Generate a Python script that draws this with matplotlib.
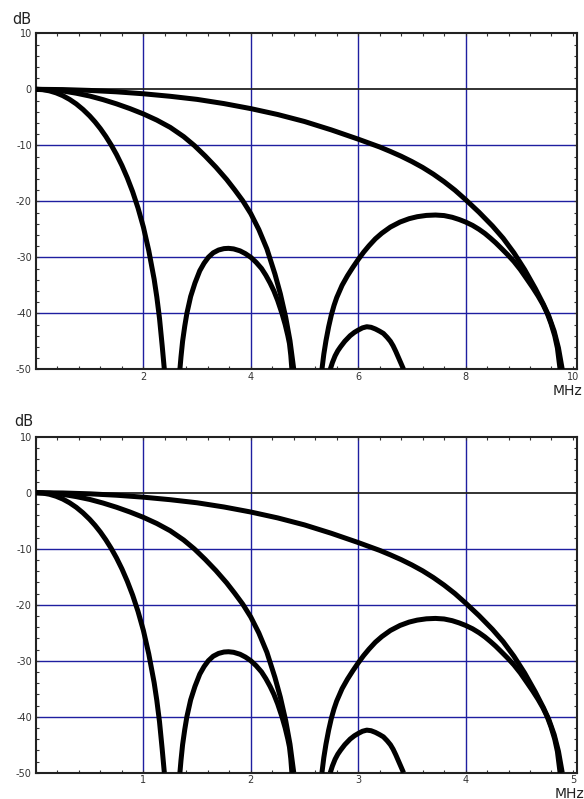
import matplotlib
matplotlib.use("Agg")
import matplotlib.pyplot as plt
from matplotlib.ticker import MultipleLocator

plt.rcParams['axes.unicode_minus'] = False

# dB readings, shared by both panels (the lower panel is the same response on a 0-5 MHz scale)
a_main_db = [0, -0.07, -0.28, -0.64, -1.14, -1.8, -2.61, -3.6, -4.76, -5.83, -7.04, -8.41, -9.94,
	-11.66, -13.6, -15.81, -18.3, -21.2, -24.6, -28.8, -33.9, -37.1, -40.9, -45.8, -50.0]
a_lobe1_db = [-50.0, -47.8, -45.0, -42.3, -40.0, -37.0, -34.6, -32.4, -31.05, -30.0, -29.2, -28.7, -28.45,
	-28.4, -28.5, -28.85, -29.35, -30.0, -30.9, -32.0, -33.2, -34.6, -36.0, -37.7, -40.0, -42.0, -44.0,
	-45.4, -47.5, -50.0]
a_lobe2_db = [-50.0, -48.8, -47.6, -46.7, -46.0, -45.0, -44.0, -43.4, -43.0, -42.6, -42.4, -42.5, -42.8,
	-43.2, -43.6, -44.3, -45.0, -45.8, -46.8, -47.9, -49.0, -50.0]
b_main_db = [0, -0.08, -0.3, -0.7, -1.2, -1.85, -2.6, -3.45, -4.4, -5.5, -6.8, -8.45, -10.05, -11.9,
	-13.9, -16.1, -17.95, -19.9, -22.2, -25.05, -28.5, -33.0, -36.5, -40.7, -44.9, -50.0]
b_lobe_db = [-50.0, -47.3, -44.9, -42.4, -40.3, -38.6, -37.2, -35.0, -33.3, -31.8, -30.4, -29.1, -27.95,
	-26.7, -25.7, -24.6, -23.7, -23.1, -22.75, -22.52, -22.45, -22.55, -22.85, -23.25, -23.7, -24.3,
	-25.0, -25.75, -26.55, -27.4, -28.25, -29.5, -30.75, -32.2, -34.0, -35.4, -36.9, -38.4, -40.0,
	-41.8, -44.0, -46.2, -50.0]
c_main_db = [0, -0.05, -0.2, -0.45, -0.8, -1.25, -1.8, -2.55, -3.45, -4.5, -5.75, -7.25, -8.9, -10.3,
	-11.1, -11.95, -12.9, -13.95, -15.15, -16.5, -18.0, -19.7, -21.95, -24.4, -26.6, -29.2, -32.2,
	-35.6, -38.4, -40.5, -43.2, -46.2, -50.0]

# frequencies, upper panel (MHz)
a_main_f = [0, 0.125, 0.25, 0.375, 0.5, 0.625, 0.75, 0.875, 1.0, 1.1, 1.2, 1.3, 1.4, 1.5, 1.6, 1.7,
	1.8, 1.9, 2.0, 2.1, 2.2, 2.25, 2.3, 2.35, 2.39]
a_lobe1_f = [2.68, 2.70, 2.73, 2.77, 2.81, 2.88, 2.96, 3.05, 3.13, 3.21, 3.3, 3.4, 3.5, 3.585, 3.68,
	3.8, 3.9, 4.0, 4.1, 4.2, 4.28, 4.36, 4.43, 4.5, 4.58, 4.64, 4.69, 4.72, 4.745, 4.765]
a_lobe2_f = [5.48, 5.52, 5.57, 5.62, 5.67, 5.75, 5.85, 5.93, 6.0, 6.08, 6.16, 6.24, 6.32, 6.4, 6.47,
	6.54, 6.6, 6.65, 6.7, 6.75, 6.8, 6.845]
b_main_f = [0, 0.25, 0.5, 0.75, 1.0, 1.25, 1.5, 1.75, 2.0, 2.25, 2.5, 2.75, 2.95, 3.15, 3.35, 3.55,
	3.7, 3.85, 4.0, 4.15, 4.3, 4.45, 4.55, 4.65, 4.73, 4.8]
b_lobe_f = [5.325, 5.36, 5.4, 5.45, 5.5, 5.55, 5.6, 5.7, 5.8, 5.9, 6.0, 6.1, 6.2, 6.32, 6.44, 6.6, 6.78,
	6.95, 7.1, 7.27, 7.44, 7.6, 7.75, 7.88, 8.0, 8.13, 8.25, 8.36, 8.46, 8.56, 8.65, 8.78, 8.9, 9.02,
	9.15, 9.25, 9.35, 9.44, 9.52, 9.59, 9.66, 9.71, 9.76]
c_main_f = [0, 0.5, 1.0, 1.5, 2.0, 2.5, 3.0, 3.5, 4.0, 4.5, 5.0, 5.5, 6.0, 6.4, 6.6, 6.8, 7.0, 7.2,
	7.4, 7.6, 7.8, 8.0, 8.25, 8.5, 8.7, 8.9, 9.1, 9.3, 9.45, 9.55, 9.65, 9.73, 9.8]

# frequencies, lower panel (MHz)
a_main_f2 = [0, 0.0625, 0.125, 0.1875, 0.25, 0.3125, 0.375, 0.4375, 0.5, 0.55, 0.6, 0.65, 0.7, 0.75,
	0.8, 0.85, 0.9, 0.95, 1.0, 1.05, 1.1, 1.125, 1.15, 1.175, 1.195]
a_lobe1_f2 = [1.34, 1.35, 1.365, 1.385, 1.405, 1.44, 1.48, 1.525, 1.565, 1.605, 1.65, 1.7, 1.75, 1.7925,
	1.84, 1.9, 1.95, 2.0, 2.05, 2.1, 2.14, 2.18, 2.215, 2.25, 2.29, 2.32, 2.345, 2.36, 2.3725, 2.3825]
a_lobe2_f2 = [2.74, 2.76, 2.785, 2.81, 2.835, 2.875, 2.925, 2.965, 3.0, 3.04, 3.08, 3.12, 3.16, 3.2,
	3.235, 3.27, 3.3, 3.325, 3.35, 3.375, 3.4, 3.4225]
b_main_f2 = [0, 0.125, 0.25, 0.375, 0.5, 0.625, 0.75, 0.875, 1.0, 1.125, 1.25, 1.375, 1.475, 1.575,
	1.675, 1.775, 1.85, 1.925, 2.0, 2.075, 2.15, 2.225, 2.275, 2.325, 2.365, 2.4]
b_lobe_f2 = [2.6625, 2.68, 2.7, 2.725, 2.75, 2.775, 2.8, 2.85, 2.9, 2.95, 3.0, 3.05, 3.1, 3.16, 3.22,
	3.3, 3.39, 3.475, 3.55, 3.635, 3.72, 3.8, 3.875, 3.94, 4.0, 4.065, 4.125, 4.18, 4.23, 4.28, 4.325,
	4.39, 4.45, 4.51, 4.575, 4.625, 4.675, 4.72, 4.76, 4.795, 4.83, 4.855, 4.88]
c_main_f2 = [0, 0.25, 0.5, 0.75, 1.0, 1.25, 1.5, 1.75, 2.0, 2.25, 2.5, 2.75, 3.0, 3.2, 3.3, 3.4, 3.5,
	3.6, 3.7, 3.8, 3.9, 4.0, 4.125, 4.25, 4.35, 4.45, 4.55, 4.65, 4.725, 4.775, 4.825, 4.865, 4.9]

top_xticks = [2, 4, 6, 8, 10]
bottom_xticks = [1, 2, 3, 4, 5]
yticks = [10, 0, -10, -20, -30, -40, -50]

W, H = 584, 799
grid_blue = '#1e1ea0'


def setup(ax, xmax, xticks, minor_step):
	ax.set_xlim(0, xmax)
	ax.set_ylim(-50, 10)
	ax.set_xticks(xticks)
	ax.set_yticks(yticks)
	ax.xaxis.set_minor_locator(MultipleLocator(minor_step))
	ax.yaxis.set_minor_locator(MultipleLocator(2))
	ax.tick_params(which='both', direction='in', top=True, right=True,
		length=2.5, width=0.8, colors='#333', labelsize=7)
	ax.tick_params(axis='x', pad=2)
	ax.tick_params(axis='y', pad=3)
	for s in ax.spines.values():
		s.set_linewidth(1.5)
		s.set_color('#222')
	for x in xticks[:-1]:
		ax.axvline(x, color=grid_blue, lw=1.0, zorder=1)
	for y in [-10, -20, -30, -40]:
		ax.axhline(y, color=grid_blue, lw=1.0, zorder=1)
	ax.axhline(0, color='#222', lw=1.3, zorder=1)


def draw(ax, pairs):
	for f, db in pairs:
		ax.plot(f, db, color='black', lw=3.6, solid_capstyle='butt',
			solid_joinstyle='round', zorder=3)


fig = plt.figure(figsize=(W / 100, H / 100), dpi=100)
ax1 = fig.add_axes([36 / W, (H - 369.3) / H, 541 / W, 336 / H])
ax2 = fig.add_axes([36 / W, (H - 772.7) / H, 541 / W, 336 / H])

setup(ax1, 10.075, top_xticks, 0.4)
setup(ax2, 5.0375, bottom_xticks, 0.2)

draw(ax1, [(a_main_f, a_main_db), (a_lobe1_f, a_lobe1_db), (a_lobe2_f, a_lobe2_db),
	(b_main_f, b_main_db), (b_lobe_f, b_lobe_db), (c_main_f, c_main_db)])
draw(ax2, [(a_main_f2, a_main_db), (a_lobe1_f2, a_lobe1_db), (a_lobe2_f2, a_lobe2_db),
	(b_main_f2, b_main_db), (b_lobe_f2, b_lobe_db), (c_main_f2, c_main_db)])

fig.text(22 / W, 1 - 19.5 / H, 'dB', ha='center', va='center', fontsize=10.5, color='#222')
fig.text(24 / W, 1 - 422 / H, 'dB', ha='center', va='center', fontsize=10.5, color='#222')
fig.text(568 / W, 1 - 384 / H, 'MHz', ha='center', va='top', fontsize=10, color='#222')
fig.text(570 / W, 1 - 786.5 / H, 'MHz', ha='center', va='top', fontsize=10, color='#222')

fig.savefig('out.png', dpi=100)
